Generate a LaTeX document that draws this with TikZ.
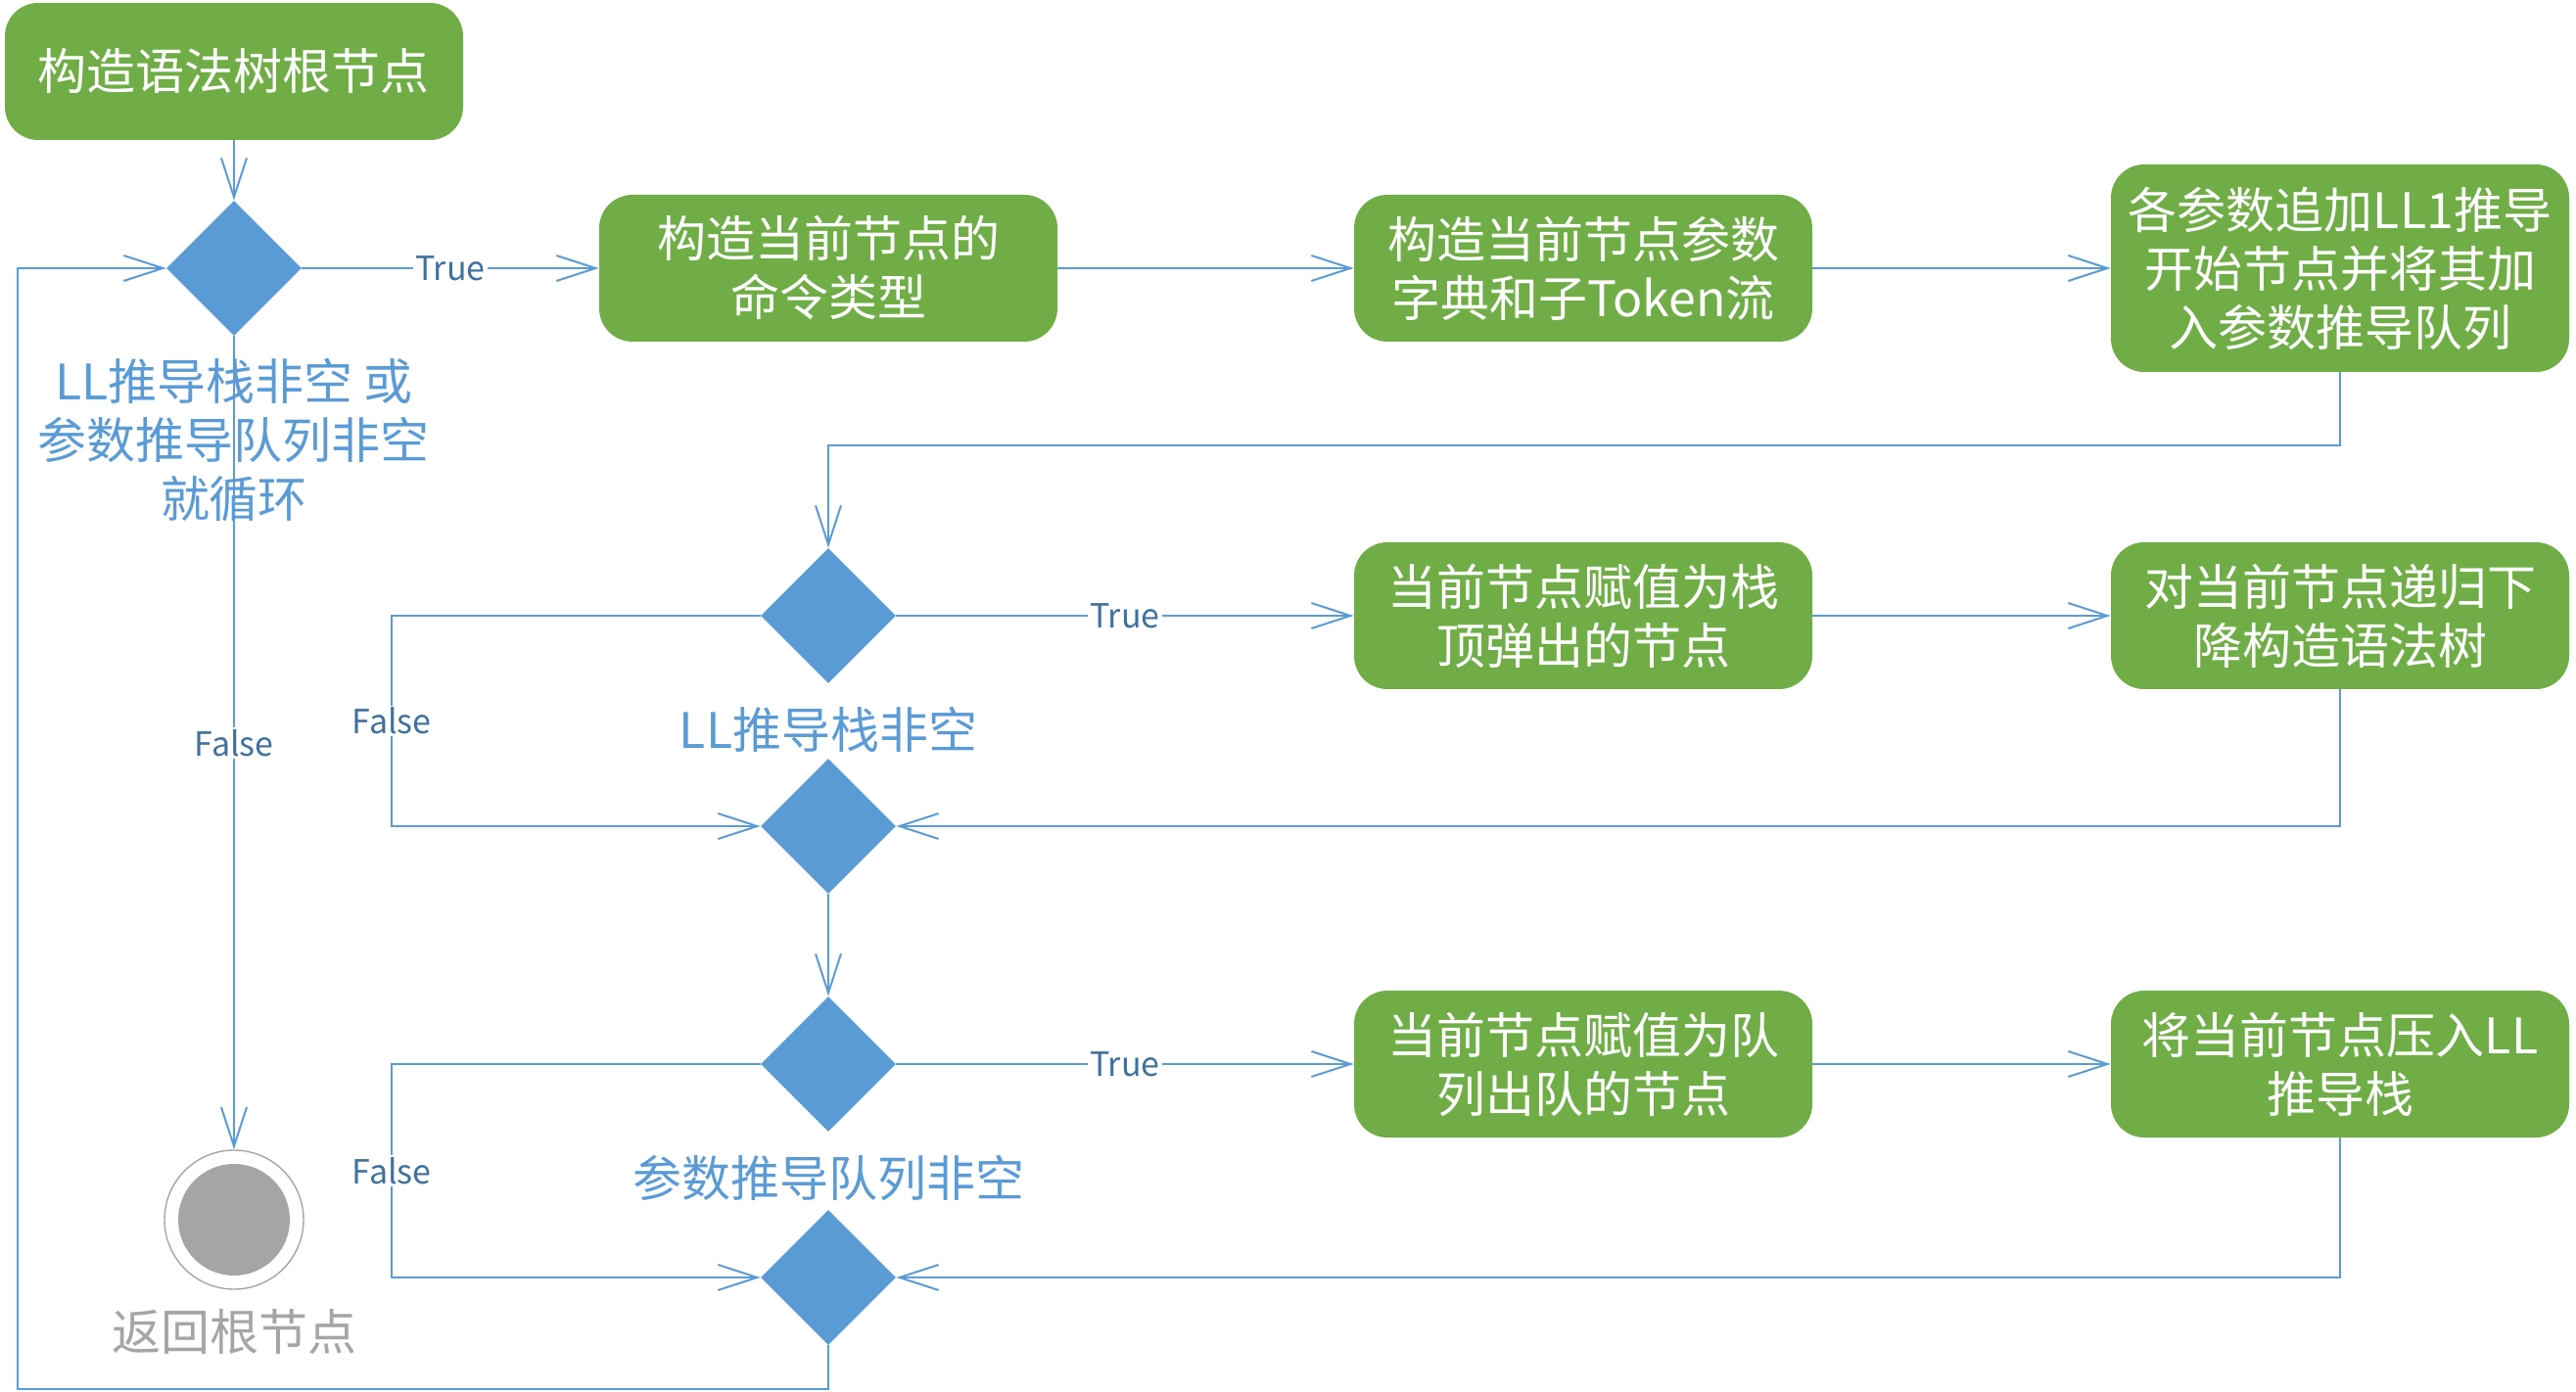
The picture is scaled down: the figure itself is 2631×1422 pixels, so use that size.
\documentclass[tikz,border=0pt]{standalone}
\usepackage{fontspec}
\setmainfont{Noto Sans CJK SC}
\usetikzlibrary{arrows.meta,shapes.geometric,calc}
\definecolor{gbox}{HTML}{70AD47}
\definecolor{bl}{HTML}{5B9BD5}
\definecolor{lbl}{HTML}{41719C}
\definecolor{gr}{HTML}{A5A5A5}
\begin{document}
\begin{tikzpicture}[x=0.5pt,y=-0.5pt,
 box/.style={rectangle, rounded corners=17pt, fill=gbox, text=white, minimum width=234pt, minimum height=75pt, align=center, font=\fontsize{25}{30}\selectfont, inner sep=0pt},
 dia/.style={diamond, fill=bl, minimum width=69pt, minimum height=69pt, inner sep=0pt},
 flow/.style={draw=bl, line width=1pt, -{Straight Barb[length=20pt,width=13pt]}},
 lab/.style={fill=white, text=lbl, font=\fontsize{17}{20}\selectfont, inner sep=1pt},
 captext/.style={text=bl, align=center, font=\fontsize{25}{30}\selectfont, inner sep=0pt}]
\useasboundingbox (0,0) rectangle (2631,1422);
% nodes
\node[box, minimum height=70pt] (root) at (239,73) {构造语法树根节点};
\node[dia] (d1) at (239,274) {};
\node[box] (b2) at (846,274) {构造当前节点的\\命令类型};
\node[box] (b3) at (1617,274) {构造当前节点参数\\字典和子Token流};
\node[box, minimum height=106pt] (b4) at (2390,274) {各参数追加LL1推导\\开始节点并将其加\\入参数推导队列};
\node[dia] (d2) at (846,629) {};
\node[box] (b5) at (1617,629) {当前节点赋值为栈\\顶弹出的节点};
\node[box] (b6) at (2390,629) {对当前节点递归下\\降构造语法树};
\node[dia] (d3) at (846,844) {};
\node[dia] (d4) at (846,1087) {};
\node[box] (b7) at (1617,1087) {当前节点赋值为队\\列出队的节点};
\node[box] (b8) at (2390,1087) {将当前节点压入LL\\推导栈};
\node[dia] (d5) at (846,1305) {};
\node[circle, draw=gr, line width=0.7pt, minimum size=71pt, inner sep=0pt] (endc) at (239,1246) {};
\fill[gr] (endc.center) circle[radius=28.5pt];
% captions
\node[captext] (t1) at (239,450) {LL推导栈非空 或\\参数推导队列非空\\就循环};
\node[captext] (t2) at (846,745) {LL推导栈非空};
\node[captext] (t3) at (846,1203) {参数推导队列非空};
\node[captext, text=gr] (t4) at (239,1360) {返回根节点};
% coordinates
\coordinate (c2) at (400,629);
\coordinate (c4) at (400,1087);
\coordinate (lb) at (18,1419);
% connectors
\draw[flow] (root.south) -- (d1.north);
\draw[flow] (d1.east) -- node[lab]{True} (b2.west);
\draw[flow] (b2.east) -- (b3.west);
\draw[flow] (b3.east) -- (b4.west);
\draw[flow] (b4.south) -- ++(0,75) -| (d2.north);
\draw[flow] (d2.east) -- node[lab]{True} (b5.west);
\draw[flow] (b5.east) -- (b6.west);
\draw[flow] (b6.south) |- (d3.east);
\draw[flow] (d2.west) -- (c2) |- node[lab,pos=0.25]{False} (d3.west);
\draw[flow] (d3.south) -- (d4.north);
\draw[flow] (d4.east) -- node[lab]{True} (b7.west);
\draw[flow] (b7.east) -- (b8.west);
\draw[flow] (b8.south) |- (d5.east);
\draw[flow] (d4.west) -- (c4) |- node[lab,pos=0.25]{False} (d5.west);
\draw[flow] (d1.south) -- node[lab]{False} (endc.north);
\draw[flow] (d5.south) |- (lb) |- (d1.west);
\end{tikzpicture}
\end{document}
